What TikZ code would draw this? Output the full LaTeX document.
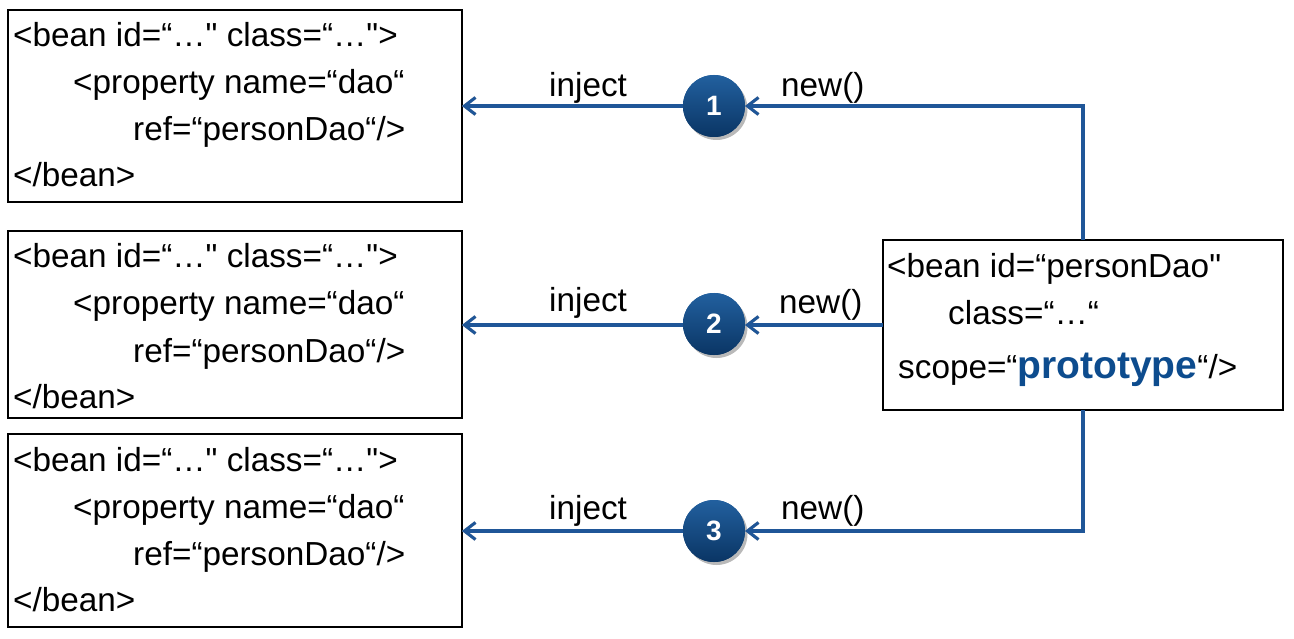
\documentclass[tikz,border=0pt]{standalone}
\usepackage{fontspec}
\setmainfont{Liberation Sans}
\usetikzlibrary{arrows.meta,shadings}
\definecolor{lineblue}{HTML}{1F5698}
\definecolor{protoblue}{HTML}{0D4C8E}
\definecolor{ctop}{HTML}{22609F}
\definecolor{cbot}{HTML}{0A3564}
\definecolor{shadowgray}{HTML}{A8A8A8}
\newcommand{\dq}{\textquotedbl}
\tikzset{
  box/.style={draw=black, line width=2pt, anchor=north west, inner sep=0pt, outer sep=0pt},
  txt/.style={anchor=base west, inner sep=0pt, font=\fontsize{33.3}{40}\selectfont},
  lbl/.style={anchor=base west, inner sep=0pt, font=\fontsize{33.3}{40}\selectfont},
  badge/.style={circle, minimum size=62pt, inner sep=0pt, outer sep=0pt,
    top color=ctop, bottom color=cbot, draw=none,
    text=white, font=\fontsize{28}{30}\selectfont\bfseries},
  conn/.style={draw=lineblue, line width=3.2pt,
    -{Straight Barb[length=11pt,width=17pt,line width=3pt]}},
  connshadow/.style={draw=shadowgray, line width=3.2pt,
    -{Straight Barb[length=11pt,width=17pt,line width=3pt]}},
}
\begin{document}
\begin{tikzpicture}[x=1pt,y=-1pt]
\useasboundingbox (0,0) rectangle (1294,639);
% left boxes
\node[box, minimum width=454pt, minimum height=192pt] (b1) at (8,10) {};
\node[box, minimum width=454pt, minimum height=187pt] (b2) at (8,231) {};
\node[box, minimum width=454pt, minimum height=193pt] (b3) at (8,434) {};
% right box
\node[box, minimum width=400pt, minimum height=170pt] (rb) at (883,240) {};
% box texts
\foreach \n/\t in {1/10, 2/231, 3/434}{
  \node[txt] (b\n l1) at (13,\t+37) {<bean id=“…\dq{} class=“…\dq>};
  \node[txt] (b\n l2) at (73,\t+84) {<property name=“dao“};
  \node[txt] (b\n l3) at (133,\t+131) {ref=“personDao“/>};
  \node[txt] (b\n l4) at (13,\t+177) {</bean>};
}
\node[txt] (r1) at (887,278) {<bean id=“personDao\dq};
\node[txt] (r2) at (948,324) {class=“…“};
\node[txt] (r3) at (898,378) {scope=“{\color{protoblue}\fontsize{39}{44}\selectfont\bfseries prototype}“/>};
% badges with shadows
\foreach \n/\y in {1/106, 2/324, 3/531}{
  \fill[shadowgray!80] (716.5,\y+3) circle[radius=31pt];
  \node[badge] (c\n) at (714,\y) {\n};
}
% corner coordinates
\coordinate (k1) at (1083,106);
\coordinate (k3) at (1083,531);
\coordinate (k2) at (883,325);
% connectors: shadows
\begin{scope}[shift={(1.8,2.2)}]
  \draw[connshadow] (rb.north -| k1) -- (k1) -- (c1.east);
  \draw[connshadow] (k2) -- (c2.east |- k2);
  \draw[connshadow] (rb.south -| k3) -- (k3) -- (c3.east);
  \draw[connshadow] (c1.west) -- (b1.east |- c1);
  \draw[connshadow] (c2.west |- k2) -- (b2.east |- k2);
  \draw[connshadow] (c3.west) -- (b3.east |- c3);
\end{scope}
% connectors
\draw[conn] (rb.north -| k1) -- (k1) -- (c1.east);
\draw[conn] (k2) -- (c2.east |- k2);
\draw[conn] (rb.south -| k3) -- (k3) -- (c3.east);
\draw[conn] (c1.west) -- (b1.east |- c1);
\draw[conn] (c2.west |- k2) -- (b2.east |- k2);
\draw[conn] (c3.west) -- (b3.east |- c3);
% redraw badges over lines
\foreach \n/\y in {1/106, 2/324, 3/531}{
  \node[badge] at (714,\y) {\n};
}
% labels
\node[lbl] (i1) at (549,97) {inject};
\node[lbl] (n1) at (781,97) {new()};
\node[lbl] (i2) at (549,312) {inject};
\node[lbl] (n2) at (779,313) {new()};
\node[lbl] (i3) at (549,519) {inject};
\node[lbl] (n3) at (781,519) {new()};
\end{tikzpicture}
\end{document}
